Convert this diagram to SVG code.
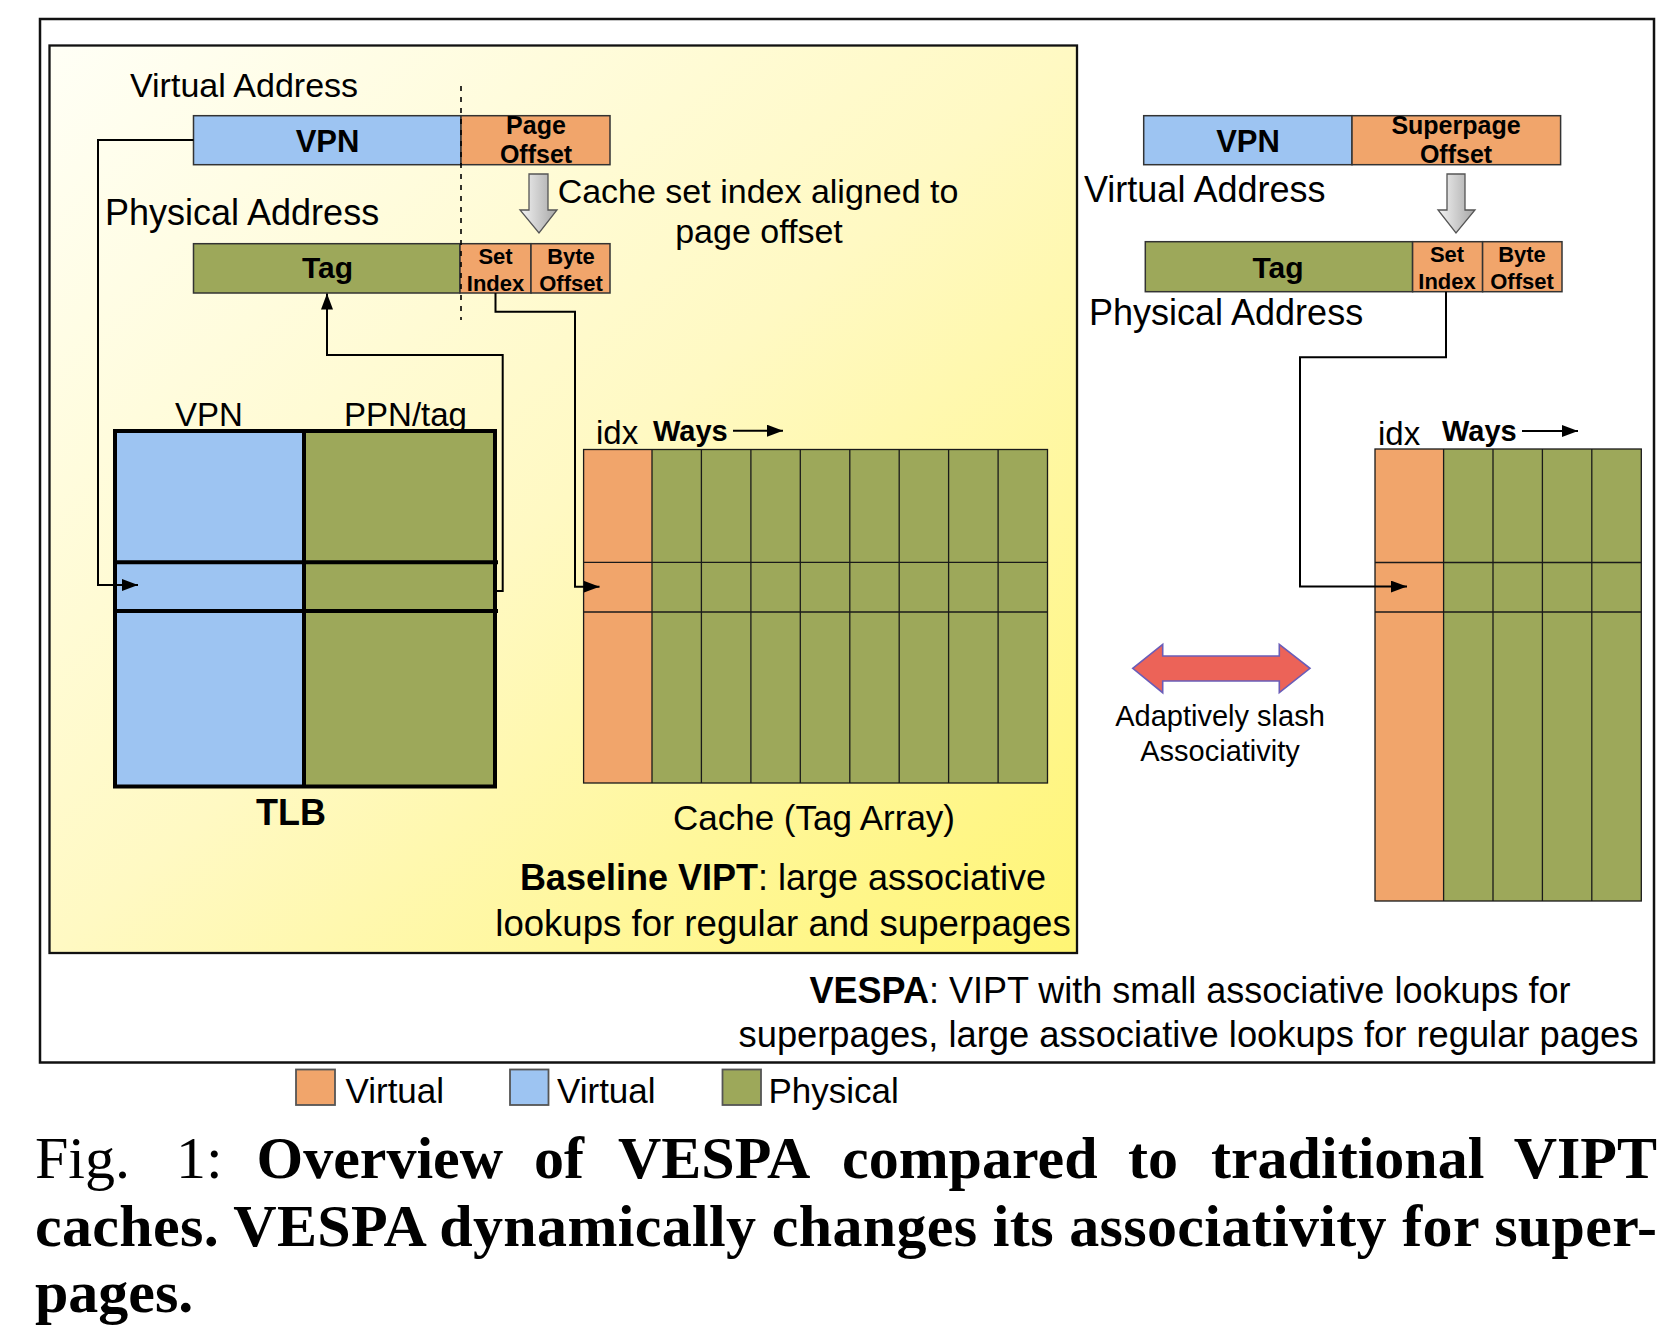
<svg xmlns="http://www.w3.org/2000/svg" width="1676" height="1338" viewBox="0 0 1676 1338">
<defs>
<linearGradient id="yel" x1="0" y1="0" x2="1" y2="1">
<stop offset="0" stop-color="#FFFFF6"/>
<stop offset="0.5" stop-color="#FFF9C3"/>
<stop offset="1" stop-color="#FFF574"/>
</linearGradient>
<linearGradient id="gray" x1="0" y1="0" x2="1" y2="0">
<stop offset="0" stop-color="#F4F4F4"/>
<stop offset="1" stop-color="#A6A6A6"/>
</linearGradient>
<marker id="ah" markerUnits="userSpaceOnUse" markerWidth="16" markerHeight="12" refX="16" refY="6" orient="auto">
<path d="M0,0 L16,6 L0,12 z" fill="#000"/>
</marker>
<style>
.sans{font-family:"Liberation Sans",Arial,Helvetica,sans-serif;fill:#000}
.serif{font-family:"Liberation Serif","Times New Roman",Times,serif;fill:#000}
.b{font-weight:bold}
.blue{fill:#9DC4F2;stroke:#333;stroke-width:1.5}
.org{fill:#F1A56B;stroke:#333;stroke-width:1.5}
.grn{fill:#9DA85A;stroke:#333;stroke-width:1.5}
.cell{stroke:#1a1a1a;stroke-width:1.3;fill:none}
.conn{fill:none;stroke:#000;stroke-width:2}
.tlb{fill:none;stroke:#000;stroke-width:4}
.garrow{fill:url(#gray);stroke:#555;stroke-width:1.3}
.leg{stroke:#555;stroke-width:1.8}
</style>
</defs>
<rect x="0" y="0" width="1676" height="1338" fill="#fff"/>

<g id="outer-box">
<rect x="40" y="19" width="1614" height="1043.5" fill="none" stroke="#111" stroke-width="2.5"/>
</g>

<g id="baseline-panel">
<rect x="49.5" y="45.5" width="1027.5" height="907.5" fill="url(#yel)" stroke="#111" stroke-width="2.3"/>
</g>

<g id="left-virtual-address">
<text class="sans" x="130" y="97" font-size="34">Virtual Address</text>
<rect class="blue" x="193.5" y="115.7" width="267.5" height="49"/>
<rect class="org" x="461" y="115.7" width="149" height="49"/>
<text class="sans b" x="327.5" y="152" font-size="31" text-anchor="middle">VPN</text>
<text class="sans b" x="536" y="134" font-size="25" text-anchor="middle">Page</text>
<text class="sans b" x="536" y="162.5" font-size="25" text-anchor="middle">Offset</text>
</g>

<g id="left-gray-arrow">
<path class="garrow" d="M529,174 L548,174 L548,210 L557,210 L539,233 L520,210 L529,210 z"/>
</g>

<g id="left-note">
<text class="sans" x="758" y="203" font-size="34" text-anchor="middle">Cache set index aligned to</text>
<text class="sans" x="759" y="243" font-size="34" text-anchor="middle">page offset</text>
</g>

<g id="left-physical-address">
<text class="sans" x="105" y="225" font-size="36">Physical Address</text>
<rect class="grn" x="193.5" y="243.7" width="266.5" height="49.3"/>
<rect class="org" x="460" y="243.7" width="71" height="49.3"/>
<rect class="org" x="531" y="243.7" width="79" height="49.3"/>
<text class="sans b" x="327.5" y="278" font-size="30" text-anchor="middle">Tag</text>
<text class="sans b" x="495.5" y="264" font-size="22" text-anchor="middle">Set</text>
<text class="sans b" x="495.5" y="291" font-size="22" text-anchor="middle">Index</text>
<text class="sans b" x="571" y="264" font-size="22" text-anchor="middle">Byte</text>
<text class="sans b" x="571" y="291" font-size="22" text-anchor="middle">Offset</text>
</g>

<g id="page-boundary">
<line x1="461" y1="86" x2="461" y2="320" stroke="#000" stroke-width="1.6" stroke-dasharray="5,6"/>
</g>

<g id="tlb">
<text class="sans" x="209" y="426" font-size="33" text-anchor="middle">VPN</text>
<text class="sans" x="405.5" y="426" font-size="33" text-anchor="middle">PPN/tag</text>
<rect x="115" y="431" width="189" height="355.5" fill="#9DC4F2"/>
<rect x="304" y="431" width="191" height="355.5" fill="#9DA85A"/>
<rect class="tlb" x="115" y="431" width="380" height="355.5"/>
<line class="tlb" x1="304" y1="431" x2="304" y2="786.5"/>
<line class="tlb" x1="115" y1="562.3" x2="498" y2="562.3"/>
<line class="tlb" x1="115" y1="611" x2="498" y2="611"/>
<text class="sans b" x="291" y="825" font-size="36" text-anchor="middle">TLB</text>
</g>

<g id="left-cache">
<text class="sans" x="596" y="444" font-size="33">idx</text>
<text class="sans b" x="653" y="441" font-size="29">Ways</text>
<rect x="583.6" y="449.5" width="68.4" height="333.5" fill="#F1A56B"/>
<rect x="652" y="449.5" width="395.5" height="333.5" fill="#9DA85A"/>
<rect class="cell" x="583.6" y="449.5" width="463.9" height="333.5" stroke-width="1.6"/>
<line class="cell" x1="652" y1="449.5" x2="652" y2="783"/>
<line class="cell" x1="701.4" y1="449.5" x2="701.4" y2="783"/>
<line class="cell" x1="750.9" y1="449.5" x2="750.9" y2="783"/>
<line class="cell" x1="800.3" y1="449.5" x2="800.3" y2="783"/>
<line class="cell" x1="849.8" y1="449.5" x2="849.8" y2="783"/>
<line class="cell" x1="899.2" y1="449.5" x2="899.2" y2="783"/>
<line class="cell" x1="948.6" y1="449.5" x2="948.6" y2="783"/>
<line class="cell" x1="998.1" y1="449.5" x2="998.1" y2="783"/>
<line class="cell" x1="583.6" y1="562.3" x2="1047.5" y2="562.3"/>
<line class="cell" x1="583.6" y1="612" x2="1047.5" y2="612"/>
<text class="sans" x="814" y="830" font-size="35" text-anchor="middle">Cache (Tag Array)</text>
</g>

<g id="baseline-caption">
<text class="sans" x="783" y="890" font-size="36" text-anchor="middle"><tspan class="b">Baseline VIPT</tspan>: large associative</text>
<text class="sans" x="783" y="936" font-size="36.6" text-anchor="middle">lookups for regular and superpages</text>
</g>

<g id="right-virtual-address">
<rect class="blue" x="1143.7" y="115.7" width="208.3" height="49"/>
<rect class="org" x="1352" y="115.7" width="208.6" height="49"/>
<text class="sans b" x="1248" y="152" font-size="31" text-anchor="middle">VPN</text>
<text class="sans b" x="1456" y="134" font-size="25" text-anchor="middle">Superpage</text>
<text class="sans b" x="1456" y="162.5" font-size="25" text-anchor="middle">Offset</text>
<text class="sans" x="1084" y="202" font-size="36">Virtual Address</text>
</g>

<g id="right-gray-arrow">
<path class="garrow" d="M1447,174 L1465,174 L1465,210 L1475,210 L1456,233 L1438,210 L1447,210 z"/>
</g>

<g id="right-physical-address">
<rect class="grn" x="1145.3" y="241.7" width="267.3" height="50"/>
<rect class="org" x="1412.6" y="241.7" width="70" height="50"/>
<rect class="org" x="1482.6" y="241.7" width="79.4" height="50"/>
<text class="sans b" x="1278" y="278" font-size="30" text-anchor="middle">Tag</text>
<text class="sans b" x="1447" y="262" font-size="22" text-anchor="middle">Set</text>
<text class="sans b" x="1447" y="289" font-size="22" text-anchor="middle">Index</text>
<text class="sans b" x="1522" y="262" font-size="22" text-anchor="middle">Byte</text>
<text class="sans b" x="1522" y="289" font-size="22" text-anchor="middle">Offset</text>
<text class="sans" x="1089" y="325" font-size="36">Physical Address</text>
</g>

<g id="right-cache">
<text class="sans" x="1378" y="445" font-size="33">idx</text>
<text class="sans b" x="1442" y="441" font-size="29">Ways</text>
<rect x="1375" y="449" width="68.6" height="452" fill="#F1A56B"/>
<rect x="1443.6" y="449" width="197.7" height="452" fill="#9DA85A"/>
<rect class="cell" x="1375" y="449" width="266.3" height="452" stroke-width="1.6"/>
<line class="cell" x1="1443.6" y1="449" x2="1443.6" y2="901"/>
<line class="cell" x1="1493" y1="449" x2="1493" y2="901"/>
<line class="cell" x1="1542.4" y1="449" x2="1542.4" y2="901"/>
<line class="cell" x1="1591.8" y1="449" x2="1591.8" y2="901"/>
<line class="cell" x1="1375" y1="562.5" x2="1641.3" y2="562.5"/>
<line class="cell" x1="1375" y1="612" x2="1641.3" y2="612"/>
</g>

<g id="adaptive-arrow">
<path d="M1132.7,668.3 L1162.7,644.3 L1162.7,656 L1279.3,656 L1279.3,644.3 L1310,668.3 L1279.3,692.7 L1279.3,681 L1162.7,681 L1162.7,692.7 z" fill="#EC6358" stroke="#6A5DB8" stroke-width="1.6"/>
<text class="sans" x="1220" y="726" font-size="29" text-anchor="middle">Adaptively slash</text>
<text class="sans" x="1220" y="761" font-size="29" text-anchor="middle">Associativity</text>
</g>

<g id="vespa-caption">
<text class="sans" x="1190" y="1003" font-size="36" text-anchor="middle"><tspan class="b">VESPA</tspan>: VIPT with small associative lookups for</text>
<text class="sans" x="1188.5" y="1047" font-size="36.3" text-anchor="middle">superpages, large associative lookups for regular pages</text>
</g>

<g id="connectors">
<path class="conn" d="M193.5,140 L98,140 L98,585 L138,585" marker-end="url(#ah)"/>
<path class="conn" d="M495,591 L502.7,591 L502.7,355 L327,355 L327,293.5" marker-end="url(#ah)"/>
<path class="conn" d="M495.5,293 L495.5,311.7 L575,311.7 L575,586.7 L599.5,586.7" marker-end="url(#ah)"/>
<path class="conn" d="M1446,291.7 L1446,357.3 L1300,357.3 L1300,586.6 L1407,586.6" marker-end="url(#ah)"/>
<path class="conn" d="M733,430.7 L783,430.7" marker-end="url(#ah)"/>
<path class="conn" d="M1522,431 L1578,431" marker-end="url(#ah)"/>
</g>

<g id="legend">
<rect class="leg" x="296" y="1069.5" width="39" height="35.5" fill="#F1A56B"/>
<text class="sans" x="345.5" y="1102.5" font-size="35">Virtual</text>
<rect class="leg" x="510" y="1069.5" width="38.5" height="35.5" fill="#9DC4F2"/>
<text class="sans" x="557" y="1102.5" font-size="35">Virtual</text>
<rect class="leg" x="722.5" y="1069.5" width="38.5" height="35.5" fill="#9DA85A"/>
<text class="sans" x="768.5" y="1102.5" font-size="35">Physical</text>
</g>

<g id="figure-caption">
<text class="serif" y="1178" font-size="60"><tspan x="35">Fig.</tspan><tspan x="176">1:</tspan><tspan x="256.5" font-weight="bold">Overview</tspan><tspan x="534" font-weight="bold">of</tspan><tspan x="618" font-weight="bold">VESPA</tspan><tspan x="842" font-weight="bold">compared</tspan><tspan x="1128" font-weight="bold">to</tspan><tspan x="1211" font-weight="bold">traditional</tspan></text>
<text class="serif" x="1657" y="1178" font-size="60" font-weight="bold" text-anchor="end">VIPT</text>
<text class="serif" x="35" y="1246" font-size="60" font-weight="bold" textLength="1622" lengthAdjust="spacing">caches. VESPA dynamically changes its associativity for super-</text>
<text class="serif" x="35" y="1312" font-size="60" font-weight="bold">pages.</text>
</g>
</svg>
